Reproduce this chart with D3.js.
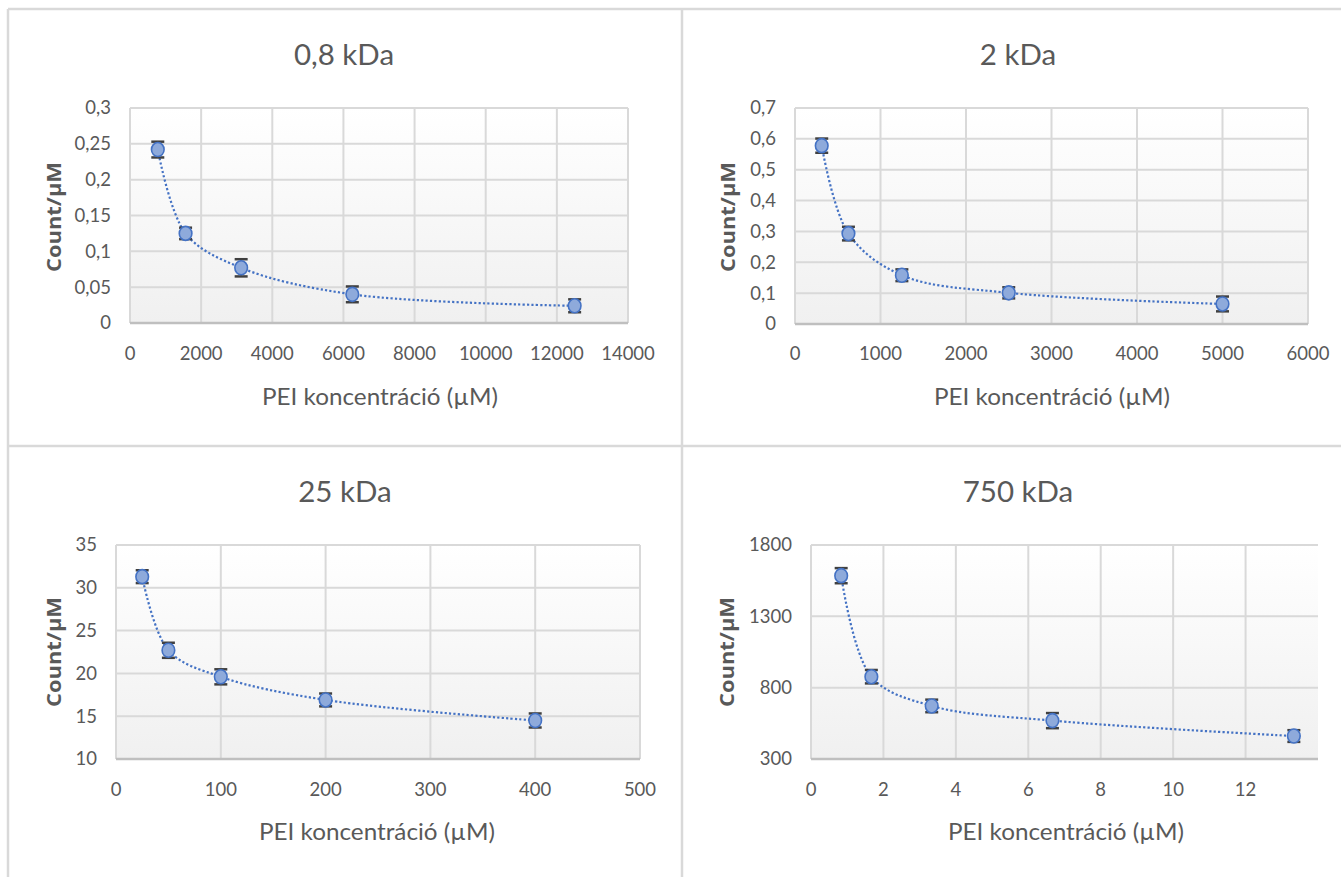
<!DOCTYPE html>
<html>
<head>
<meta charset="utf-8">
<script src="https://cdn.jsdelivr.net/npm/d3@7"></script>
<style>
  html, body { margin: 0; padding: 0; background: #ffffff; }
  svg { display: block; }
</style>
</head>
<body>
<svg id="chart" width="1341" height="877"></svg>
<script>
// ---------- DATA ----------
const titles = ["0,8 kDa", "2 kDa", "25 kDa", "750 kDa"];
const xTitle = "PEI koncentráció (µM)";
const yTitle = "Count/µM";

const x08 = [781.25, 1562.5, 3125, 6250, 12500];
const y08 = [0.242, 0.125, 0.077, 0.040, 0.024];
const e08 = [0.011, 0.008, 0.012, 0.011, 0.009];
const xTicks08 = [0, 2000, 4000, 6000, 8000, 10000, 12000, 14000];
const yTicks08 = [0, 0.05, 0.1, 0.15, 0.2, 0.25, 0.3];

const x2 = [312.5, 625, 1250, 2500, 5000];
const y2 = [0.578, 0.293, 0.158, 0.101, 0.065];
const e2 = [0.023, 0.022, 0.019, 0.018, 0.024];
const xTicks2 = [0, 1000, 2000, 3000, 4000, 5000, 6000];
const yTicks2 = [0, 0.1, 0.2, 0.3, 0.4, 0.5, 0.6, 0.7];

const x25 = [25, 50, 100, 200, 400];
const y25 = [31.3, 22.7, 19.6, 16.9, 14.5];
const e25 = [0.75, 0.88, 0.88, 0.75, 0.82];
const xTicks25 = [0, 100, 200, 300, 400, 500];
const yTicks25 = [10, 15, 20, 25, 30, 35];

const x750 = [0.8333, 1.6667, 3.3333, 6.6667, 13.3333];
const y750 = [1585, 877, 672, 569, 461];
const e750 = [53, 47, 44, 53, 41];
const xTicks750 = [0, 2, 4, 6, 8, 10, 12];
const yTicks750 = [300, 800, 1300, 1800];

// ---------- LAYOUT ----------
const panels = [
  { title: titles[0], xs: x08, ys: y08, es: e08, xt: xTicks08, yt: yTicks08, xDom: [0, 14000], yDom: [0, 0.3],
    L: 130, R: 628, T: 108, B: 323, tx: 344, ty: 55, xtx: 380, xty: 397, ytx: 54, yty: 217, xTickY: 354, grid: true },
  { title: titles[1], xs: x2, ys: y2, es: e2, xt: xTicks2, yt: yTicks2, xDom: [0, 6000], yDom: [0, 0.7],
    L: 795, R: 1308, T: 108, B: 324, tx: 1018, ty: 55, xtx: 1052, xty: 397, ytx: 728, yty: 217, xTickY: 354, grid: true },
  { title: titles[2], xs: x25, ys: y25, es: e25, xt: xTicks25, yt: yTicks25, xDom: [0, 500], yDom: [10, 35],
    L: 116, R: 640, T: 545, B: 759, tx: 345, ty: 492, xtx: 377, xty: 832, ytx: 54, yty: 652, xTickY: 790, grid: true },
  { title: titles[3], xs: x750, ys: y750, es: e750, xt: xTicks750, yt: yTicks750, xDom: [0, 14], yDom: [300, 1800],
    L: 811, R: 1318, T: 545, B: 759, tx: 1018, ty: 492, xtx: 1066, xty: 832, ytx: 727, yty: 652, xTickY: 790, grid: true }
];

const svg = d3.select("#chart");
const fmt = v => String(+v.toFixed(4)).replace(".", ",");

const defs = svg.append("defs");
const grad = defs.append("linearGradient").attr("id", "bg").attr("x1", 0).attr("y1", 0).attr("x2", 0).attr("y2", 1);
grad.append("stop").attr("offset", "0%").attr("stop-color", "#ffffff");
grad.append("stop").attr("offset", "100%").attr("stop-color", "#f0f0f0");

// chart frame borders
const borderColor = "#d9d9d9";
const frame = svg.append("g").attr("stroke", borderColor).attr("stroke-width", 2.5).attr("fill", "none");
frame.append("line").attr("x1", 8).attr("x2", 1341).attr("y1", 9).attr("y2", 9);
frame.append("line").attr("x1", 8).attr("x2", 8).attr("y1", 9).attr("y2", 877);
frame.append("line").attr("x1", 682).attr("x2", 682).attr("y1", 9).attr("y2", 877);
frame.append("line").attr("x1", 8).attr("x2", 1341).attr("y1", 446).attr("y2", 446);

const textColor = "#595959";

panels.forEach(p => {
  const x = d3.scaleLinear().domain(p.xDom).range([p.L, p.R]);
  const y = d3.scaleLinear().domain(p.yDom).range([p.B, p.T]);
  const g = svg.append("g");

  // plot background
  g.append("rect").attr("x", p.L).attr("y", p.T).attr("width", p.R - p.L).attr("height", p.B - p.T)
    .attr("fill", "url(#bg)");

  // horizontal gridlines
  g.append("g").selectAll("line").data(p.yt).join("line")
    .attr("x1", p.L).attr("x2", p.R).attr("y1", d => y(d)).attr("y2", d => y(d))
    .attr("stroke", "#d9d9d9").attr("stroke-width", 2);
  // vertical gridlines
  g.append("g").selectAll("line").data(p.xt).join("line")
    .attr("x1", d => x(d)).attr("x2", d => x(d)).attr("y1", p.T).attr("y2", p.B)
    .attr("stroke", "#d9d9d9").attr("stroke-width", 2);
  // bottom axis line
  g.append("line").attr("x1", p.L).attr("x2", p.R).attr("y1", p.B).attr("y2", p.B)
    .attr("stroke", "#bfbfbf").attr("stroke-width", 2.5);

  // tick labels
  g.append("g").selectAll("text").data(p.xt).join("text")
    .attr("x", d => x(d)).attr("y", p.xTickY).attr("dy", "0.35em")
    .attr("text-anchor", "middle").attr("font-family", "Lato, sans-serif").attr("font-size", 18.5)
    .attr("fill", textColor).text(d => fmt(d));
  g.append("g").selectAll("text").data(p.yt).join("text")
    .attr("x", p.L - 19).attr("y", d => y(d)).attr("dy", "0.35em")
    .attr("text-anchor", "end").attr("font-family", "Lato, sans-serif").attr("font-size", 18.5)
    .attr("fill", textColor).text(d => fmt(d));

  // titles
  g.append("text").attr("x", p.tx).attr("y", p.ty).attr("dy", "0.35em").attr("text-anchor", "middle")
    .attr("font-family", "Lato, sans-serif").attr("font-size", 29.5).attr("fill", textColor).text(p.title);
  g.append("text").attr("x", p.xtx).attr("y", p.xty).attr("dy", "0.35em").attr("text-anchor", "middle")
    .attr("font-family", "Lato, sans-serif").attr("font-size", 24).attr("fill", textColor)
    .attr("textLength", 236).attr("lengthAdjust", "spacingAndGlyphs").text(xTitle);
  g.append("text").attr("transform", `translate(${p.ytx},${p.yty}) rotate(-90)`).attr("dy", "0.35em")
    .attr("text-anchor", "middle").attr("font-family", "'Open Sans', sans-serif").attr("font-weight", 700)
    .attr("font-size", 20).attr("fill", textColor)
    .attr("textLength", 110).attr("lengthAdjust", "spacingAndGlyphs").text(yTitle);

  const pts = p.xs.map((v, i) => ({ x: v, y: p.ys[i], e: p.es[i] }));

  // smoothed dotted line through points
  const line = d3.line().x(d => x(d.x)).y(d => y(d.y)).curve(d3.curveCatmullRom.alpha(0.5));
  g.append("path").datum(pts).attr("d", line).attr("fill", "none")
    .attr("stroke", "#4472c4").attr("stroke-width", 2.2).attr("stroke-dasharray", "2.2,2.2");

  // error bars
  const eb = g.append("g").attr("stroke", "#404040");
  eb.selectAll("line.v").data(pts).join("line").attr("class", "v")
    .attr("x1", d => x(d.x)).attr("x2", d => x(d.x)).attr("y1", d => y(d.y + d.e)).attr("y2", d => y(d.y - d.e))
    .attr("stroke-width", 1.5);
  eb.selectAll("line.t").data(pts).join("line").attr("class", "t")
    .attr("x1", d => x(d.x) - 6.5).attr("x2", d => x(d.x) + 6.5).attr("y1", d => y(d.y + d.e)).attr("y2", d => y(d.y + d.e))
    .attr("stroke-width", 2.5);
  eb.selectAll("line.b").data(pts).join("line").attr("class", "b")
    .attr("x1", d => x(d.x) - 6.5).attr("x2", d => x(d.x) + 6.5).attr("y1", d => y(d.y - d.e)).attr("y2", d => y(d.y - d.e))
    .attr("stroke-width", 2.5);

  // markers
  g.append("g").selectAll("ellipse").data(pts).join("ellipse")
    .attr("cx", d => x(d.x)).attr("cy", d => y(d.y)).attr("rx", 6.3).attr("ry", 7)
    .attr("fill", "#8eaadb").attr("stroke", "#4472c4").attr("stroke-width", 1.6);
});
</script>
</body>
</html>
